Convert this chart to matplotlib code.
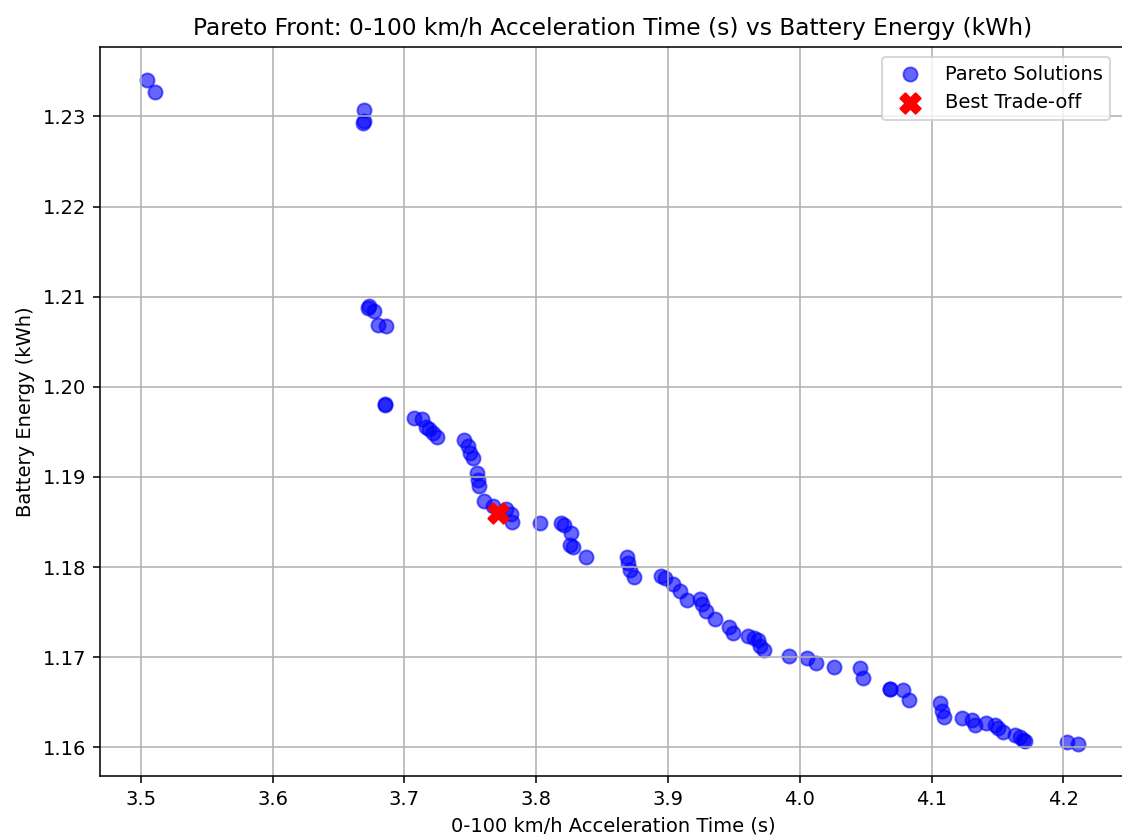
import numpy as np
import matplotlib
matplotlib.use("Agg")
import matplotlib.pyplot as plt

# Pareto solutions
accel_time = [3.505, 3.5106, 3.669, 3.669, 3.6685,
              3.6735, 3.6725, 3.677, 3.680, 3.686,
              3.6856, 3.6852, 3.7076, 3.7134, 3.7164,
              3.719, 3.7215, 3.7245, 3.7455, 3.748,
              3.7498, 3.7523, 3.7548, 3.7555, 3.757,
              3.7606, 3.767, 3.777, 3.7808, 3.782,
              3.8028, 3.8187, 3.8212, 3.8262, 3.8255,
              3.828, 3.838, 3.869, 3.870, 3.871,
              3.8742, 3.8945, 3.898, 3.9038, 3.909,
              3.9146, 3.9247, 3.926, 3.929, 3.936,
              3.946, 3.9495, 3.961, 3.965, 3.968,
              3.970, 3.9727, 3.992, 4.0056, 4.012,
              4.026, 4.0455, 4.048, 4.0687, 4.0682,
              4.078, 4.083, 4.1066, 4.108, 4.1096,
              4.1235, 4.131, 4.133, 4.141, 4.148,
              4.1508, 4.1545, 4.1634, 4.167, 4.1697,
              4.171, 4.2025, 4.2114]
battery_energy = [1.2340, 1.2327, 1.2307, 1.2295, 1.2293,
                  1.2090, 1.2088, 1.2084, 1.2069, 1.2067,
                  1.1981, 1.1980, 1.1965, 1.1964, 1.1955,
                  1.1953, 1.1949, 1.1944, 1.1941, 1.1934,
                  1.1927, 1.1921, 1.1904, 1.1897, 1.1890,
                  1.1873, 1.1868, 1.1864, 1.1859, 1.1850,
                  1.1849, 1.1849, 1.1847, 1.1838, 1.1825,
                  1.1822, 1.1811, 1.1811, 1.1804, 1.1797,
                  1.1789, 1.1790, 1.1788, 1.1781, 1.1773,
                  1.1764, 1.1765, 1.1759, 1.1751, 1.1742,
                  1.1734, 1.1727, 1.1723, 1.1721, 1.1719,
                  1.1712, 1.1708, 1.1701, 1.1699, 1.1694,
                  1.1689, 1.1688, 1.1677, 1.1665, 1.1665,
                  1.1664, 1.1652, 1.1649, 1.1640, 1.1634,
                  1.1633, 1.1630, 1.1625, 1.1627, 1.1625,
                  1.1621, 1.1617, 1.1614, 1.1612, 1.1608,
                  1.1607, 1.1606, 1.1604]

best_time = 3.7707
best_energy = 1.1860

fig, ax = plt.subplots(figsize=(8.02, 6.0), dpi=140)
# right edge of the axes runs just past the picture, as in the reference
fig.subplots_adjust(left=0.089, right=1.003, top=0.944, bottom=0.076)

ax.scatter(accel_time, battery_energy, s=52, color="blue", alpha=0.6,
           label="Pareto Solutions")
ax.scatter(best_time, best_energy, s=110, color="red", marker="X",
           label="Best Trade-off")

ax.set_xlim(3.469, 4.2477)
ax.set_ylim(1.1568, 1.2377)
ax.spines["right"].set_visible(False)
ax.set_xlabel("0-100 km/h Acceleration Time (s)")
ax.set_ylabel("Battery Energy (kWh)")
ax.set_title("Pareto Front: 0-100 km/h Acceleration Time (s) vs Battery Energy (kWh)")
ax.grid(True)
ax.legend(loc="upper right", bbox_to_anchor=(0.994, 1.0))

fig.savefig("out.png", dpi=140)
